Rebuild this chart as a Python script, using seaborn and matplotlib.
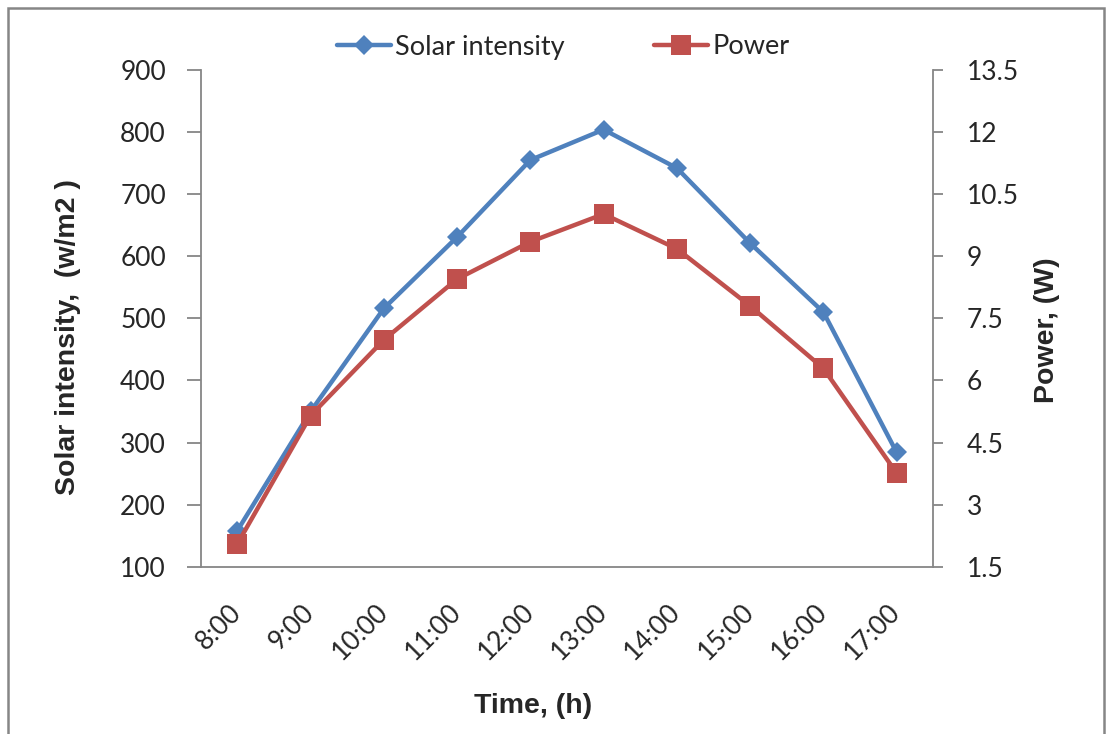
import numpy as np
import pandas as pd
import matplotlib
matplotlib.use("Agg")
import matplotlib.pyplot as plt
import seaborn as sns
from matplotlib.patches import Rectangle

# Hourly measurements
hours = ["8:00", "9:00", "10:00", "11:00", "12:00", "13:00", "14:00", "15:00", "16:00", "17:00"]
solar_intensity = [158, 350, 516, 631, 755, 804, 742, 621, 510, 284]   # W/m2
power = [2.05, 5.15, 6.98, 8.45, 9.35, 10.02, 9.18, 7.8, 6.29, 3.76]   # W

left_ticks = [100, 200, 300, 400, 500, 600, 700, 800, 900]
right_ticks = [1.5, 3, 4.5, 6, 7.5, 9, 10.5, 12, 13.5]

BLUE = "#4F81BD"
RED = "#C0504D"
GRID = "#868686"

sns.set_theme(style="white")
plt.rcParams["font.family"] = ["Lato", "DejaVu Sans"]

df = pd.DataFrame({
    "pos": np.arange(len(hours)),
    "hour": hours,
    "solar": solar_intensity,
    "power": power,
})

fig = plt.figure(figsize=(11.06, 7.34), dpi=100)
ax = fig.add_axes([200.7 / 1106, 1 - 566.7 / 734, (933.3 - 200.7) / 1106, (566.7 - 70) / 734])
ax2 = ax.twinx()

sns.lineplot(data=df, x="pos", y="solar", ax=ax, color=BLUE, linewidth=3.2,
             marker="D", markersize=10, markeredgewidth=0, label="Solar intensity",
             legend=False)
sns.lineplot(data=df, x="pos", y="power", ax=ax2, color=RED, linewidth=3.2,
             marker="s", markersize=14, markeredgewidth=0, label="Power",
             legend=False)

ax.set_xlim(-0.5, len(hours) - 0.5)
ax.set_ylim(left_ticks[0], left_ticks[-1])
ax2.set_ylim(right_ticks[0], right_ticks[-1])
ax.set_yticks(left_ticks)
ax.set_yticklabels([str(v) for v in left_ticks])
ax2.set_yticks(right_ticks)
ax2.set_yticklabels([f"{v:g}" for v in right_ticks])

# category labels at centres, tick marks on the boundaries
ax.set_xticks(np.arange(len(hours)))
ax.set_xticklabels(hours, rotation=45, ha="right", va="center", rotation_mode="anchor")
ax.set_xticks(np.arange(len(hours) + 1) - 0.5, minor=True)
ax.tick_params(axis="x", which="major", length=0, pad=30, labelsize=19)
ax.tick_params(axis="x", which="minor", length=10, width=1.3, color=GRID, direction="out")
ax.tick_params(axis="y", length=10, width=1.3, color=GRID, direction="out", pad=15,
               labelsize=19, left=True)
ax2.tick_params(axis="y", length=7, width=1.3, color=GRID, direction="out", pad=17,
                labelsize=19, right=True)

for a in (ax, ax2):
    a.spines["top"].set_visible(False)
    for side in ("left", "right", "bottom"):
        a.spines[side].set_color(GRID)
        a.spines[side].set_linewidth(1.3)
ax.spines["right"].set_visible(False)
ax2.spines["left"].set_visible(False)
ax2.spines["bottom"].set_visible(False)

ax.set_xlabel("")
ax.set_ylabel("")
ax2.set_ylabel("")

title_font = dict(family=["Liberation Sans", "DejaVu Sans"], fontweight="bold", fontsize=20.5)
fig.text(68 / 1106, 1 - 337 / 734, "Solar intensity,  (w/m2 )", rotation=90,
         ha="center", va="center", **title_font)
fig.text(1047 / 1106, 1 - 330 / 734, "Power, (W)", rotation=90,
         ha="center", va="center", **title_font)
fig.text(533 / 1106, 1 - 706 / 734, "Time, (h)", ha="center", va="center", **title_font)

h1, l1 = ax.get_legend_handles_labels()
h2, l2 = ax2.get_legend_handles_labels()
fig.legend(h1 + h2, l1 + l2, loc="center", bbox_to_anchor=(563 / 1106, 1 - 47 / 734),
           ncol=2, frameon=False, fontsize=19.5, handlelength=2.0, handletextpad=0.15,
           columnspacing=3.3)

# chart-area border
fig.patches.append(Rectangle((8 / 1106, -0.01), (1104 - 8) / 1106, 1 - 8 / 734 + 0.01,
                             transform=fig.transFigure, fill=False, edgecolor=GRID,
                             linewidth=1.8))

fig.savefig("out.png", dpi=100)
